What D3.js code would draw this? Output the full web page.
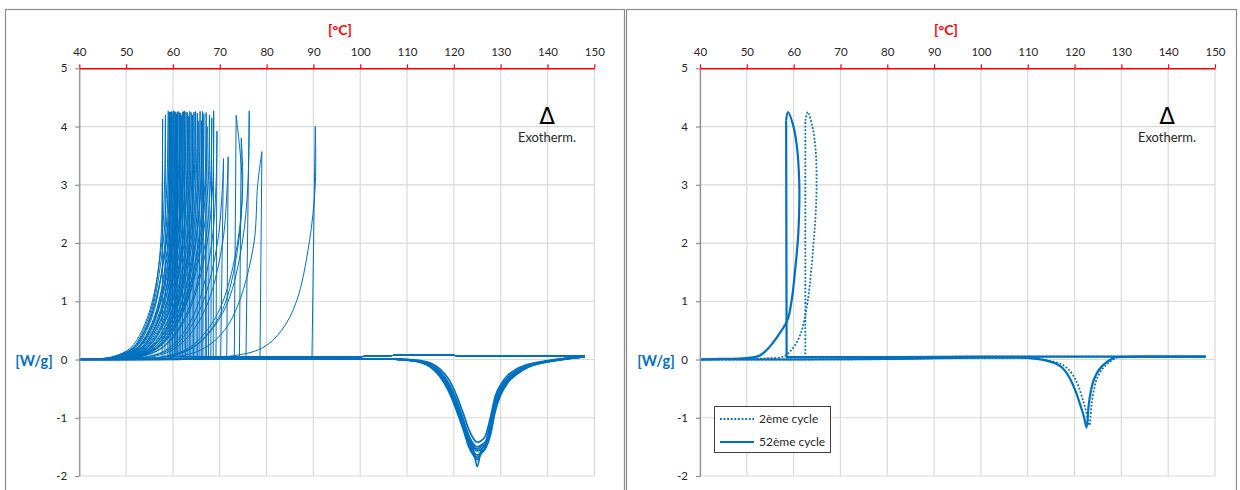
<!DOCTYPE html>
<html><head><meta charset="utf-8">
<script src="https://cdn.jsdelivr.net/npm/d3@7"></script>
<style>
body{margin:0;background:#fff;}
svg{display:block;}
text{font-family:Lato,"Open Sans","DejaVu Sans",sans-serif;}
</style>
</head><body>
<svg id="c" width="1240" height="490"></svg>
<script>
// ---------- shared labels / ticks ----------
const xTicks = [40, 50, 60, 70, 80, 90, 100, 110, 120, 130, 140, 150];
const yTicks = [-2, -1, 0, 1, 2, 3, 4, 5];
const xUnit = "[°C]";
const yUnit = "[W/g]";
const exoSymbol = "Δ";
const exoLabel = "Exotherm.";
const legendNames = ["2ème cycle", "52ème cycle"];

// ---------- left chart: all cycles (cooling) ----------
const onsetT = [57.7,58.9,59.2,59.6,59.9,60.3,60.7,60.9,61.3,61.7,62.1,62.7,63.2,63.8,64.7,66.2,66.4,66.9,67.2,68.6,69.2,70.2,71.5,73.1,74.2,75.6,78.6,89.7,58.3,59.4,60.0,60.5,61.0,61.5,62.0,62.4,63.0,63.5,64.1,64.4,65.1,65.6,66.0,67.6,68.1,65.3];
const peakT = [57.8,59.0,59.3,59.7,60.0,60.4,60.8,61.0,61.4,61.8,62.2,62.8,63.3,63.9,64.8,66.3,66.6,67.1,67.3,68.7,69.4,70.8,71.8,73.5,74.6,76.3,79.0,90.4,58.4,59.5,60.1,60.6,61.1,61.6,62.1,62.5,63.1,63.6,64.2,64.5,65.2,65.8,66.1,67.8,68.3,65.4];
const peakW = [4.13,4.27,4.25,4.26,4.24,4.26,4.22,4.25,4.24,4.2,4.26,4.25,4.18,4.24,4.26,4.26,4.22,4.24,4.0,4.27,3.92,3.45,3.48,4.19,3.8,4.27,3.57,4.0,4.2,4.25,4.27,4.25,4.26,4.23,4.25,4.27,4.24,4.26,4.2,4.25,4.23,4.26,4.1,4.2,4.15,4.1];
// temperatures where each cycle's return branch crosses these W/g levels
const returnLevels = [3, 2, 1, 0.5, 0.2, 0.05];
const returnT = [
 [57.7,57.4,55.8,53.7,51.4,47.4],
 [58.7,57.9,56.0,54.0,51.6,47.8],
 [59.0,58.3,56.5,54.4,52.0,48.3],
 [59.5,58.9,57.0,54.9,52.4,48.6],
 [59.7,58.6,56.3,54.2,51.8,48.0],
 [60.2,59.4,57.4,55.2,52.6,49.0],
 [60.5,59.6,57.3,55.0,52.5,48.8],
 [60.8,60.1,58.0,55.8,53.2,49.5],
 [61.1,60.2,57.9,55.5,52.9,49.3],
 [61.6,60.9,58.7,56.3,53.6,50.0],
 [61.9,60.8,58.3,56.0,53.3,49.6],
 [62.5,61.6,59.3,56.9,54.1,50.4],
 [63.0,62.0,59.6,57.1,54.3,50.6],
 [63.7,62.8,60.4,57.8,54.9,51.0],
 [64.5,63.5,60.9,58.3,55.3,51.3],
 [66.0,64.8,62.0,59.2,56.0,51.8],
 [66.4,65.4,62.8,60.0,56.8,52.5],
 [66.8,65.6,62.6,59.6,56.3,52.0],
 [67.0,65.9,63.0,60.1,56.9,52.6],
 [68.5,67.3,64.3,61.2,57.8,53.3],
 [69.2,68.3,65.6,62.6,59.2,54.6],
 [70.6,69.5,66.5,63.3,59.8,55.0],
 [71.6,70.6,67.6,64.3,60.6,55.8],
 [74.8,74.0,71.3,68.0,64.0,58.5],
 [74.9,73.8,70.7,67.3,63.4,58.0],
 [76.0,74.8,71.8,68.2,64.2,58.7],
 [78.1,77.3,74.2,71.0,66.8,61.0],
 [90.4,89.1,86.4,83.2,79.1,71.5],
 [58.2,57.6,55.6,53.4,51.0,47.2],
 [59.3,58.5,56.3,54.0,51.6,47.9],
 [59.9,59.1,57.1,54.8,52.3,48.6],
 [60.4,59.8,58.0,55.9,53.4,49.6],
 [60.8,59.9,57.5,55.2,52.7,49.0],
 [61.3,60.5,58.3,55.9,53.2,49.6],
 [61.9,61.2,59.0,56.6,53.9,50.2],
 [62.2,61.2,58.8,56.3,53.6,49.9],
 [62.9,62.1,59.9,57.4,54.6,50.8],
 [63.4,62.4,59.9,57.3,54.5,50.6],
 [64.0,63.1,60.6,58.0,55.1,51.2],
 [64.3,63.5,61.3,58.8,55.9,51.9],
 [64.9,63.8,61.1,58.4,55.4,51.4],
 [65.5,64.5,61.9,59.1,55.9,51.8],
 [65.9,64.9,62.4,59.6,56.5,52.3],
 [67.5,66.2,63.1,60.0,56.6,52.1],
 [68.0,66.9,64.0,60.9,57.5,53.0],
 [65.2,64.1,61.4,58.6,55.5,51.5]
];
const coolBaseT = [148, 122, 118, 111, 100];
const coolBaseW = [0.06, 0.06, 0.08, 0.08, 0.05];
const coolEndT = [44, 40];
const coolEndW = [0.01, 0.0];

// ---------- left chart: heating curves (endotherm band) ----------
const heatT = [40,105,110,113,115,117,119,120.5,122,123.2,124.2,125,125.8,126.8,127.8,128.8,130,131.5,133.5,136,140,144,148];
const heatW = [
 [0,0.01,0.0,-0.02,-0.06,-0.16,-0.35,-0.6,-0.92,-1.2,-1.36,-1.42,-1.4,-1.3,-1.0,-0.64,-0.43,-0.27,-0.16,-0.08,-0.02,0.02,0.05],
 [0,0.01,0.0,-0.03,-0.08,-0.2,-0.42,-0.68,-1.02,-1.3,-1.45,-1.5,-1.47,-1.4,-1.1,-0.7,-0.48,-0.31,-0.19,-0.1,-0.03,0.02,0.05],
 [0,0.01,0.0,-0.03,-0.09,-0.22,-0.45,-0.72,-1.06,-1.34,-1.49,-1.54,-1.5,-1.43,-1.14,-0.74,-0.5,-0.33,-0.2,-0.1,-0.03,0.02,0.05],
 [0,0.01,-0.01,-0.04,-0.1,-0.24,-0.48,-0.76,-1.1,-1.38,-1.52,-1.57,-1.54,-1.46,-1.18,-0.78,-0.53,-0.34,-0.21,-0.11,-0.03,0.02,0.05],
 [0,0.01,-0.01,-0.05,-0.12,-0.27,-0.53,-0.82,-1.16,-1.44,-1.58,-1.64,-1.6,-1.5,-1.24,-0.84,-0.57,-0.37,-0.23,-0.12,-0.04,0.01,0.05],
 [0,0.01,-0.01,-0.05,-0.12,-0.28,-0.55,-0.84,-1.18,-1.47,-1.62,-1.68,-1.61,-1.51,-1.27,-0.87,-0.59,-0.38,-0.24,-0.12,-0.04,0.01,0.05],
 [0,0.01,-0.01,-0.05,-0.13,-0.29,-0.56,-0.86,-1.2,-1.5,-1.65,-1.72,-1.62,-1.52,-1.3,-0.9,-0.61,-0.4,-0.25,-0.13,-0.04,0.01,0.05],
 [0,0.01,-0.01,-0.04,-0.11,-0.25,-0.5,-0.8,-1.14,-1.42,-1.56,-1.84,-1.56,-1.46,-1.2,-0.82,-0.55,-0.36,-0.22,-0.12,-0.03,0.01,0.05]
];

// ---------- right chart: 2ème cycle (dotted) ----------
const c2HeatT = [40,60,80,100,108,112.5,114.5,116.5,118,119.5,120.8,121.8,122.5,123.2,123.6,124.3,125.4,126.8,128.3,129.3,135,148];
const c2HeatW = [0.0,0.0,0.01,0.03,0.03,0.01,-0.02,-0.06,-0.12,-0.25,-0.45,-0.7,-0.9,-1.13,-0.8,-0.46,-0.23,-0.09,0.0,0.04,0.05,0.05];
const c2CoolT = [148,120,100,80,62.5,62.5,63.0,64.0,64.7,64.9,64.7,64.2,63.0,61.4,59.6,57.8,54,48,40];
const c2CoolW = [0.05,0.05,0.05,0.04,0.04,4.1,4.25,4.0,3.6,3.0,2.5,1.95,1.0,0.42,0.17,0.05,0.02,0.01,0.0];
// ---------- right chart: 52ème cycle (solid) ----------
const c52HeatT = [40,60,80,100,108,112,114,116,117.5,119,120.3,121.3,122.0,122.6,123.0,123.7,124.8,126.2,127.7,128.7,135,148];
const c52HeatW = [0.0,0.0,0.01,0.03,0.03,0.01,-0.02,-0.07,-0.15,-0.32,-0.56,-0.8,-0.98,-1.17,-0.8,-0.46,-0.23,-0.09,0.0,0.04,0.05,0.05];
const c52CoolT = [148,120,100,80,58.5,58.4,58.8,59.8,60.6,61.2,61.0,60.4,59.6,58.7,57.1,55.0,52.8,49,44,40];
const c52CoolW = [0.05,0.05,0.05,0.04,0.04,4.1,4.25,4.05,3.72,3.03,2.17,1.6,1.03,0.68,0.46,0.23,0.07,0.02,0.01,0.0];

// ================= drawing =================
const BLUE = "#0070C0";
const svg = d3.select("#c");
const yScale = d3.scaleLinear().domain([-2, 5]).range([476, 68.3]);
const xLeft = d3.scaleLinear().domain([40, 150]).range([79.3, 594.3]);
const xRight = d3.scaleLinear().domain([40, 150]).range([700, 1215]);

// panel borders
svg.append("rect").attr("x", 5.5).attr("y", 9.5).attr("width", 619).attr("height", 500)
  .attr("fill", "none").attr("stroke", "#8C8C8C").attr("stroke-width", 1.2);
svg.append("rect").attr("x", 626.5).attr("y", 9.5).attr("width", 610).attr("height", 500)
  .attr("fill", "none").attr("stroke", "#8C8C8C").attr("stroke-width", 1.2);

function grid(g, x, y) {
  g.append("g").selectAll("line").data(xTicks).join("line")
    .attr("x1", d => x(d)).attr("x2", d => x(d))
    .attr("y1", y(5)).attr("y2", y(-2))
    .attr("stroke", "#D9D9D9").attr("stroke-width", 1.2);
  g.append("g").selectAll("line").data(yTicks).join("line")
    .attr("x1", x(40)).attr("x2", x(150))
    .attr("y1", d => y(d)).attr("y2", d => y(d))
    .attr("stroke", "#D9D9D9").attr("stroke-width", 1.2);
}

function axes(g, x, y, unitX, unitLabelX) {
  const ya = g.append("g").attr("transform", `translate(${x(40)},0)`)
    .call(d3.axisLeft(y).tickValues(yTicks).tickFormat(d => String(d)).tickSize(4).tickSizeOuter(0).tickPadding(8));
  ya.select(".domain").attr("stroke", "#8C8C8C").attr("stroke-width", 1.2);
  ya.selectAll(".tick line").attr("stroke", "#8C8C8C").attr("stroke-width", 1.2);
  ya.selectAll("text").attr("font-size", 11.5).attr("fill", "#262626")
    .style("font-family", "Lato, 'Open Sans', sans-serif");
  const xa = g.append("g").attr("transform", `translate(0,${y(5)})`)
    .call(d3.axisTop(x).tickValues(xTicks).tickFormat(d => String(d)).tickSize(4).tickSizeOuter(0).tickPadding(8));
  xa.select(".domain").attr("stroke", "#FF0000").attr("stroke-width", 1.4);
  xa.selectAll(".tick line").attr("stroke", "#FF0000").attr("stroke-width", 1.2);
  xa.selectAll("text").attr("font-size", 11.5).attr("fill", "#262626")
    .style("font-family", "Lato, 'Open Sans', sans-serif");
  g.append("text").attr("x", unitX).attr("y", 35).attr("text-anchor", "middle")
    .attr("font-size", 14).attr("font-weight", "bold").attr("fill", "#FF0000").text(xUnit);
  g.append("text").attr("x", unitLabelX).attr("y", 365.5).attr("text-anchor", "middle")
    .attr("font-size", 14.5).attr("font-weight", "bold").attr("fill", BLUE).text(yUnit);
}

function exo(g, cx) {
  g.append("text").attr("x", cx).attr("y", 123.5).attr("text-anchor", "middle")
    .attr("font-size", 23).style("font-family", "'DejaVu Sans', sans-serif").attr("fill", "#000").text(exoSymbol);
  g.append("text").attr("x", cx).attr("y", 142).attr("text-anchor", "middle")
    .attr("font-size", 13).attr("fill", "#262626").text(exoLabel);
}

const zip = (T, W) => T.map((t, i) => [t, W[i]]);

// ----- left chart -----
const gL = svg.append("g");
grid(gL, xLeft, yScale);
const linL = d3.line().x(d => xLeft(d[0])).y(d => yScale(d[1]));
const crL = d3.line().x(d => xLeft(d[0])).y(d => yScale(d[1])).curve(d3.curveCatmullRom.alpha(0.5));
const monoL = d3.line().x(d => xLeft(d[0])).y(d => yScale(d[1])).curve(d3.curveMonotoneX);

heatW.forEach(W => {
  gL.append("path").attr("d", monoL(zip(heatT, W)))
    .attr("fill", "none").attr("stroke", BLUE).attr("stroke-width", 1.7);
});
const base = zip(coolBaseT, coolBaseW);
onsetT.forEach((t0, i) => {
  const lin = base.concat([[t0, 0.05], [peakT[i], peakW[i]]]);
  const ret = [[peakT[i], peakW[i]]]
    .concat(returnT[i].map((t, k) => [t, returnLevels[k]]))
    .concat(zip(coolEndT, coolEndW));
  gL.append("path").attr("d", linL(lin)).attr("fill", "none").attr("stroke", BLUE).attr("stroke-width", 1);
  gL.append("path").attr("d", crL(ret)).attr("fill", "none").attr("stroke", BLUE).attr("stroke-width", 1);
});
axes(gL, xLeft, yScale, 340, 34);
exo(gL, 547);

// ----- right chart -----
const gR = svg.append("g");
grid(gR, xRight, yScale);
const linR = d3.line().x(d => xRight(d[0])).y(d => yScale(d[1]));
const crR = d3.line().x(d => xRight(d[0])).y(d => yScale(d[1])).curve(d3.curveCatmullRom.alpha(0.5));
const monoR = d3.line().x(d => xRight(d[0])).y(d => yScale(d[1])).curve(d3.curveMonotoneX);

function cycle(g, hT, hW, cT, cW, style) {
  const cool = zip(cT, cW);
  const paths = [monoR(zip(hT, hW)), linR(cool.slice(0, 6)), crR(cool.slice(5))];
  paths.forEach(p => {
    const el = g.append("path").attr("d", p).attr("fill", "none").attr("stroke", BLUE)
      .attr("stroke-width", style.w);
    if (style.dash) el.attr("stroke-dasharray", style.dash);
  });
}
cycle(gR, c2HeatT, c2HeatW, c2CoolT, c2CoolW, {w: 1.8, dash: "1.8,1.8"});
cycle(gR, c52HeatT, c52HeatW, c52CoolT, c52CoolW, {w: 2.2});
axes(gR, xRight, yScale, 946, 656);
exo(gR, 1167);

// legend
const lg = gR.append("g");
lg.append("rect").attr("x", 714.5).attr("y", 406.5).attr("width", 116).attr("height", 46)
  .attr("fill", "#fff").attr("stroke", "#404040").attr("stroke-width", 1);
legendNames.forEach((name, i) => {
  const yy = 419 + i * 23;
  const l = lg.append("line").attr("x1", 720).attr("x2", 754).attr("y1", yy).attr("y2", yy)
    .attr("stroke", BLUE).attr("stroke-width", i === 0 ? 1.8 : 2.2);
  if (i === 0) l.attr("stroke-dasharray", "1.8,1.8");
  lg.append("text").attr("x", 759).attr("y", yy + 4).attr("font-size", 12).attr("fill", "#262626").text(name);
});
</script>
</body></html>
